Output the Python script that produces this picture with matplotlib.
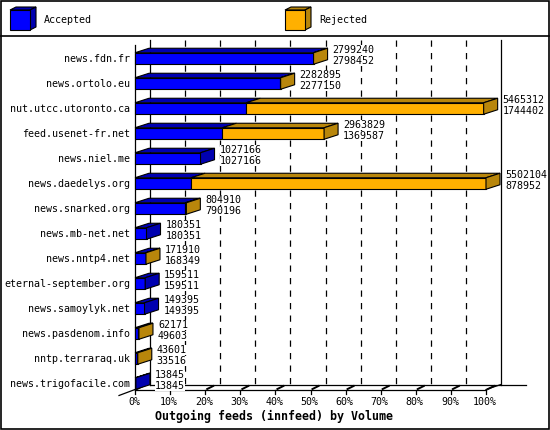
import matplotlib
matplotlib.use("Agg")
import matplotlib.pyplot as plt
from matplotlib.patches import Polygon, Rectangle
from matplotlib.lines import Line2D

# ---------------- data ----------------
hosts = ["news.fdn.fr", "news.ortolo.eu", "nut.utcc.utoronto.ca", "feed.usenet-fr.net",
         "news.niel.me", "news.daedelys.org", "news.snarked.org", "news.mb-net.net",
         "news.nntp4.net", "eternal-september.org", "news.samoylyk.net",
         "news.pasdenom.info", "nntp.terraraq.uk", "news.trigofacile.com"]
offered = [2799240, 2282895, 5465312, 2963829, 1027166, 5502104, 804910, 180351,
           171910, 159511, 149395, 62171, 43601, 13845]
accepted = [2798452, 2277150, 1744402, 1369587, 1027166, 878952, 790196, 180351,
            168349, 159511, 149395, 49603, 33516, 13845]
xticks = [0, 10, 20, 30, 40, 50, 60, 70, 80, 90, 100]
xticklabels = [f"{t}%" for t in xticks]
series_names = ["Accepted", "Rejected"]
title = "Outgoing feeds (innfeed) by Volume"

# ---------------- style ----------------
BLUE = "#0000FF"
BLUE_D = "#0000B0"
ORANGE = "#FFB000"
ORANGE_D = "#B8860B"
FONT = "DejaVu Sans Mono"
FS = 7.2

W, H = 550, 430
fig = plt.figure(figsize=(W / 100, H / 100), dpi=100)

# canvas axes in pixel coordinates for frame and legend
cv = fig.add_axes([0, 0, 1, 1])
cv.set_xlim(0, W)
cv.set_ylim(H, 0)
cv.axis("off")
cv.add_patch(Rectangle((0.5, 0.5), W - 1.5, H - 1.5, fill=False, ec="black", lw=1.2))
cv.add_line(Line2D([0.5, W - 1], [35.5, 35.5], color="black", lw=1.2))


def cube(ax, x, y, s, dx, dy, fc, dc):
    ax.add_patch(Polygon([(x, y), (x + s, y), (x + s + dx, y - dy), (x + dx, y - dy)],
                         closed=True, fc=dc, ec="black", lw=0.8))
    ax.add_patch(Polygon([(x + s, y), (x + s, y + s), (x + s + dx, y + s - dy), (x + s + dx, y - dy)],
                         closed=True, fc=dc, ec="black", lw=0.8))
    ax.add_patch(Rectangle((x, y), s, s, fc=fc, ec="black", lw=0.8))


leg_pos = [10, 285]
leg_cols = [(BLUE, BLUE_D), (ORANGE, ORANGE_D)]
for lx, name, (fc, dc) in zip(leg_pos, series_names, leg_cols):
    cube(cv, lx, 10, 20, 6, 3, fc, dc)
    cv.text(lx + 34, 20, name, fontsize=FS, family=FONT, va="center", ha="left")

# main axes: x in percent, y in rows
left_px, right_px = 135, 486
top_px, bot_px = 46, 396
n = len(hosts)
ax = fig.add_axes([left_px / W, 1 - bot_px / H, (right_px - left_px) / W, (bot_px - top_px) / H])
ax.set_xlim(0, 100)
ax.set_ylim(n - 0.5, -0.5)
ax.axis("off")

sx = 100 / (right_px - left_px)   # percent per pixel
sy = 1 / 25.0                      # rows per pixel

wdx, wdy = 15 * sx, -5 * sy        # wall depth
bdx, bdy = 14 * sx, -4.5 * sy      # bar depth
bh = 11.5 * sy                     # bar height
floor_y = (n - 1) + 6 * sy
top_y = -0.5 - 1 * sy + 5 * sy * 0  # front top
front_top = (45 - 58.5) * sy
back_top = front_top + wdy
back_floor = floor_y + wdy

kw = dict(color="black", lw=0.9, clip_on=False)
# front y-axis
ax.add_line(Line2D([0, 0], [front_top, floor_y], zorder=1, **kw))
# back wall edges
ax.add_line(Line2D([wdx, wdx], [back_top, back_floor], zorder=1, **kw))
ax.add_line(Line2D([100 + wdx, 100 + wdx], [back_top, back_floor], zorder=1, **kw))
# floor lines
ax.add_line(Line2D([wdx, 100 + 40 * sx], [back_floor, back_floor], zorder=1, **kw))
ax.add_line(Line2D([0, 100], [floor_y, floor_y], zorder=1, **kw))
ax.add_line(Line2D([100, 100 + wdx], [floor_y, back_floor], zorder=1, **kw))
ax.add_line(Line2D([0, -wdx - 1 * sx], [floor_y, floor_y - wdy * 1.2], zorder=1, **kw))
# dashed gridlines on back wall
for t in xticks[1:-1]:
    ax.add_line(Line2D([t + wdx, t + wdx], [back_top, back_floor], color="black", lw=0.9,
                       ls=(0, (5, 5)), clip_on=False, zorder=1))
# ticks and labels
for t, lab in zip(xticks, xticklabels):
    ax.add_line(Line2D([t, t], [floor_y, floor_y + 4 * sy], zorder=1, **kw))
    ax.add_line(Line2D([t + 2 * sx, t + 8 * sx], [floor_y - 0.5 * sy, floor_y - 3.5 * sy],
                       color="black", lw=1.4, clip_on=False, zorder=1))
    ax.text(t - 1 * sx, floor_y + 12.5 * sy, lab, fontsize=FS, family=FONT,
            ha="center", va="center", clip_on=False)

fig.text(274 / W, 1 - 416.5 / H, title, fontsize=8.4, family=FONT, weight="bold",
         ha="center", va="center")

vmax = max(offered)
for i, (h, o, a) in enumerate(zip(hosts, offered, accepted)):
    yt = i - bh / 2
    yb = i + bh / 2
    pa = a / vmax * 100
    po = o / vmax * 100
    segs = [(0, pa, BLUE, BLUE_D)]
    if o > a:
        segs.append((pa, po, ORANGE, ORANGE_D))
    for x0, x1, fc, dc in segs:
        ax.add_patch(Polygon([(x0, yt), (x1, yt), (x1 + bdx, yt + bdy), (x0 + bdx, yt + bdy)],
                             closed=True, fc=dc, ec="black", lw=0.8, clip_on=False, zorder=3))
        ax.add_patch(Rectangle((x0, yt), x1 - x0, bh, fc=fc, ec="black", lw=0.8,
                               clip_on=False, zorder=3))
    dc = segs[-1][3]
    ax.add_patch(Polygon([(po, yt), (po, yb), (po + bdx, yb + bdy), (po + bdx, yt + bdy)],
                         closed=True, fc=dc, ec="black", lw=0.8, clip_on=False, zorder=3))
    # value labels
    tx = po + bdx + 5 * sx
    for dyp, val in ((-9, o), (2.5, a)):
        ax.text(tx, i + dyp * sy, str(val), fontsize=FS, family=FONT, ha="left", va="center",
                clip_on=False, zorder=4,
                bbox=dict(boxstyle="square,pad=0", fc="white", ec="none"))
    # category label
    ax.text(-5 * sx, i, h, fontsize=FS, family=FONT, ha="right", va="center", clip_on=False)

fig.savefig("out.png", dpi=100)
